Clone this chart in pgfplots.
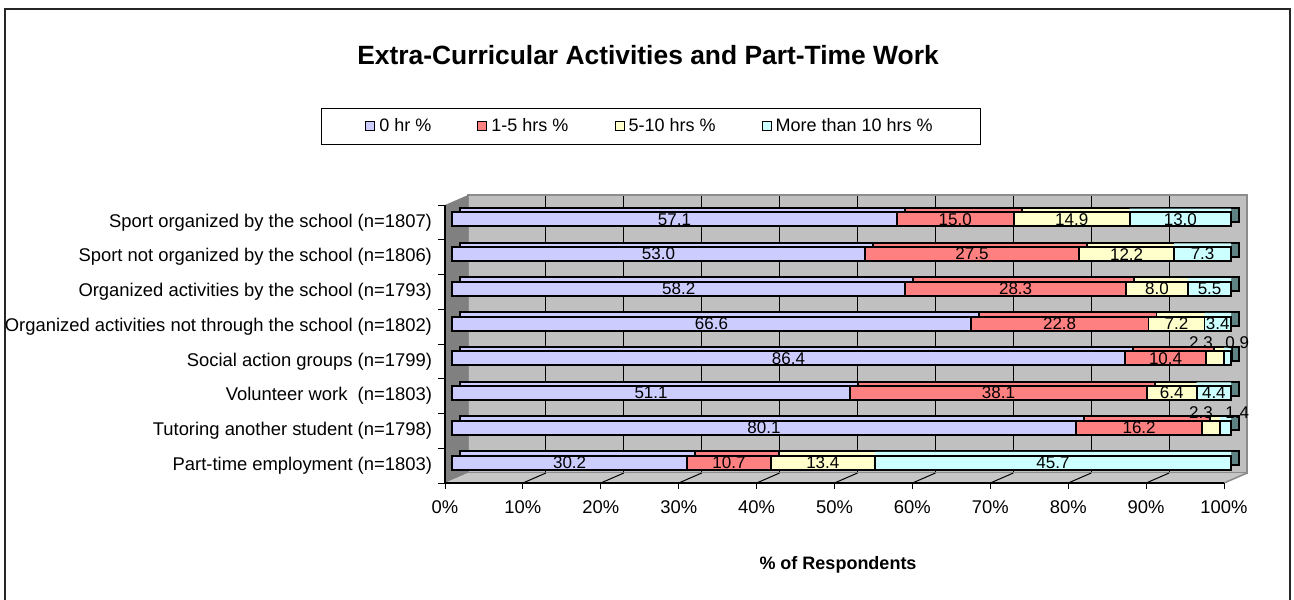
\documentclass[border=0pt]{standalone}
\usepackage{pgfplots}
\pgfplotsset{compat=1.18}
\usepackage{pgfplotstable}
\usepackage{fontspec}
\setmainfont{Liberation Sans}
\definecolor{cA}{HTML}{CCCCFF}
\definecolor{cB}{HTML}{FF8080}
\definecolor{cC}{HTML}{FFFFCC}
\definecolor{cD}{HTML}{CCFFFF}
\definecolor{cSide}{HTML}{5F8282}
\definecolor{wallc}{HTML}{C0C0C0}
\definecolor{lwallc}{HTML}{808080}

\pgfplotstableread{
y a b c d
0 30.2 10.7 13.4 45.7
1 80.1 16.2 2.3 1.4
2 51.1 38.1 6.4 4.4
3 86.4 10.4 2.3 0.9
4 66.6 22.8 7.2 3.4
5 58.2 28.3 8.0 5.5
6 53.0 27.5 12.2 7.3
7 57.1 15.0 14.9 13.0
}\datatable

\pgfplotstableread{
x y lab
15.1 0 30.2
35.55 0 10.7
47.6 0 13.4
77.15 0 45.7
40.05 1 80.1
88.2 1 16.2
96.15 1.45 2.3
100.8 1.45 1.4
25.55 2 51.1
70.15 2 38.1
92.4 2 6.4
97.8 2 4.4
43.2 3 86.4
91.6 3 10.4
96.15 3.45 2.3
100.8 3.45 0.9
33.3 4 66.6
78.0 4 22.8
93.0 4 7.2
98.3 4 3.4
29.1 5 58.2
72.35 5 28.3
90.5 5 8.0
97.25 5 5.5
26.5 6 53.0
66.75 6 27.5
86.6 6 12.2
96.35 6 7.3
28.55 7 57.1
64.6 7 15.0
79.55 7 14.9
93.5 7 13.0
}\labtable

\pgfplotsset{
  plane/.style={scale only axis, width=389.5pt, height=139pt,
    xmin=0, xmax=100, ymin=-0.5, ymax=7.5, anchor=south west},
  barsax/.style={plane, hide axis, xbar stacked, bar width=7pt, clip=false},
  bst/.style={draw=black, line width=0.9pt, fill=#1},
}

\begin{document}
\begin{tikzpicture}
\path[use as bounding box] (0,0) rectangle (647pt,-299.5pt);

% outer frame
\draw[line width=1pt, black!85] (2.5pt,-300pt) -- (2.5pt,-4.5pt) -- (645pt,-4.5pt) -- (645pt,-300pt);

% title
\node[font=\bfseries\fontsize{13.2}{15}\selectfont] at (324pt,-27.5pt) {Extra-Curricular Activities and Part-Time Work};

% back wall
\begin{axis}[plane, at={(234pt,-236.5pt)}, axis background/.style={fill=wallc},
  xtick={0,10,...,100}, ytick=\empty, xticklabels={}, xmajorgrids,
  major grid style={black, line width=0.5pt}, major tick length=0pt,
  axis line style={draw=black!45, line width=0.8pt}]
\addplot[draw=none] coordinates {(0,0)};
\end{axis}

% left wall and floor
\begin{scope}[x=0.5pt, y=-0.5pt]
\fill[lwallc] (445,205) -- (468,195) -- (468,473) -- (445,483) -- cycle;
\fill[wallc!90!white] (445,483) -- (468,473) -- (1247,473) -- (1224,483) -- cycle;
\draw[black!45, line width=0.8pt] (1247,473) -- (1224,483);
\foreach \k in {1,...,9} {
  \draw[black, line width=0.5pt] ({445+77.9*\k},483) -- ({468+77.9*\k},473);
}
\end{scope}

% front plane: ticks and labels
\begin{axis}[plane, at={(222.5pt,-241.5pt)},
  axis x line*=bottom, axis y line*=left,
  axis line style={black, line width=0.6pt, -},
  xtick={0,10,...,100},
  xticklabels={0\%,10\%,20\%,30\%,40\%,50\%,60\%,70\%,80\%,90\%,100\%},
  ytick={0,...,7},
  yticklabels={Part-time employment (n=1803),Tutoring another student (n=1798),Volunteer work\ \ (n=1803),Social action groups (n=1799),Organized activities not through the school (n=1802),Organized activities by the school (n=1793),Sport not organized by the school (n=1806),Sport organized by the school (n=1807)},
  minor ytick={-0.5,0.5,...,7.5},
  major y tick style={draw=none},
  minor y tick style={draw=black, line width=0.5pt},
  tick align=outside, major tick length=3pt, minor tick length=3.5pt,
  major x tick style={black, line width=0.5pt},
  tick label style={font=\fontsize{9.2}{10}\selectfont},
  xticklabel style={yshift=-2.5pt},
]
\addplot[draw=none] coordinates {(0,0)};
\end{axis}

% bars: back copy (top and side faces)
\begin{axis}[barsax, at={(230pt,-237.75pt)}]
\addplot[bst=cA] table[x=a,y=y]{\datatable};
\addplot[bst=cB] table[x=b,y=y]{\datatable};
\addplot[bst=cC] table[x=c,y=y]{\datatable};
\addplot[bst=cSide] table[x=d,y=y]{\datatable};
\end{axis}

% top face of last segment
\begin{axis}[barsax, at={(226pt,-238.15pt)}]
\addplot[draw=none, fill=none] table[x=a,y=y]{\datatable};
\addplot[draw=none, fill=none] table[x=b,y=y]{\datatable};
\addplot[draw=none, fill=none] table[x=c,y=y]{\datatable};
\addplot[draw=none, fill=cD] table[x=d,y=y]{\datatable};
\end{axis}

% bars: front faces + legend
\begin{axis}[barsax, at={(226pt,-240pt)},
  legend style={at={(0.2555,1.27)}, anchor=center, legend columns=4,
    draw=black, line width=0.5pt, fill=white,
    font=\fontsize{9}{10}\selectfont, inner xsep=22pt, inner ysep=3pt,
    /tikz/every even column/.append style={column sep=21pt}},
  legend image code/.code={\draw[#1, draw=black, line width=0.5pt] (0pt,-2pt) rectangle (4.5pt,2.5pt);},
]
\addplot[bst=cA] table[x=a,y=y]{\datatable};
\addplot[bst=cB] table[x=b,y=y]{\datatable};
\addplot[bst=cC] table[x=c,y=y]{\datatable};
\addplot[bst=cD] table[x=d,y=y]{\datatable};
\legend{0 hr \%, 1-5 hrs \%, 5-10 hrs \%, More than 10 hrs \%}
\end{axis}

% data labels
\begin{axis}[plane, hide axis, clip=false, at={(226pt,-240pt)}]
\addplot[draw=none, nodes near coords, point meta=explicit symbolic,
  nodes near coords style={anchor=center, font=\fontsize{8.5}{10}\selectfont, text=black}]
  table[x=x,y=y,meta=lab]{\labtable};
\end{axis}

% x axis title
\node[font=\bfseries\fontsize{9}{10}\selectfont] at (419pt,-282.5pt) {\% of Respondents};
\end{tikzpicture}
\end{document}
